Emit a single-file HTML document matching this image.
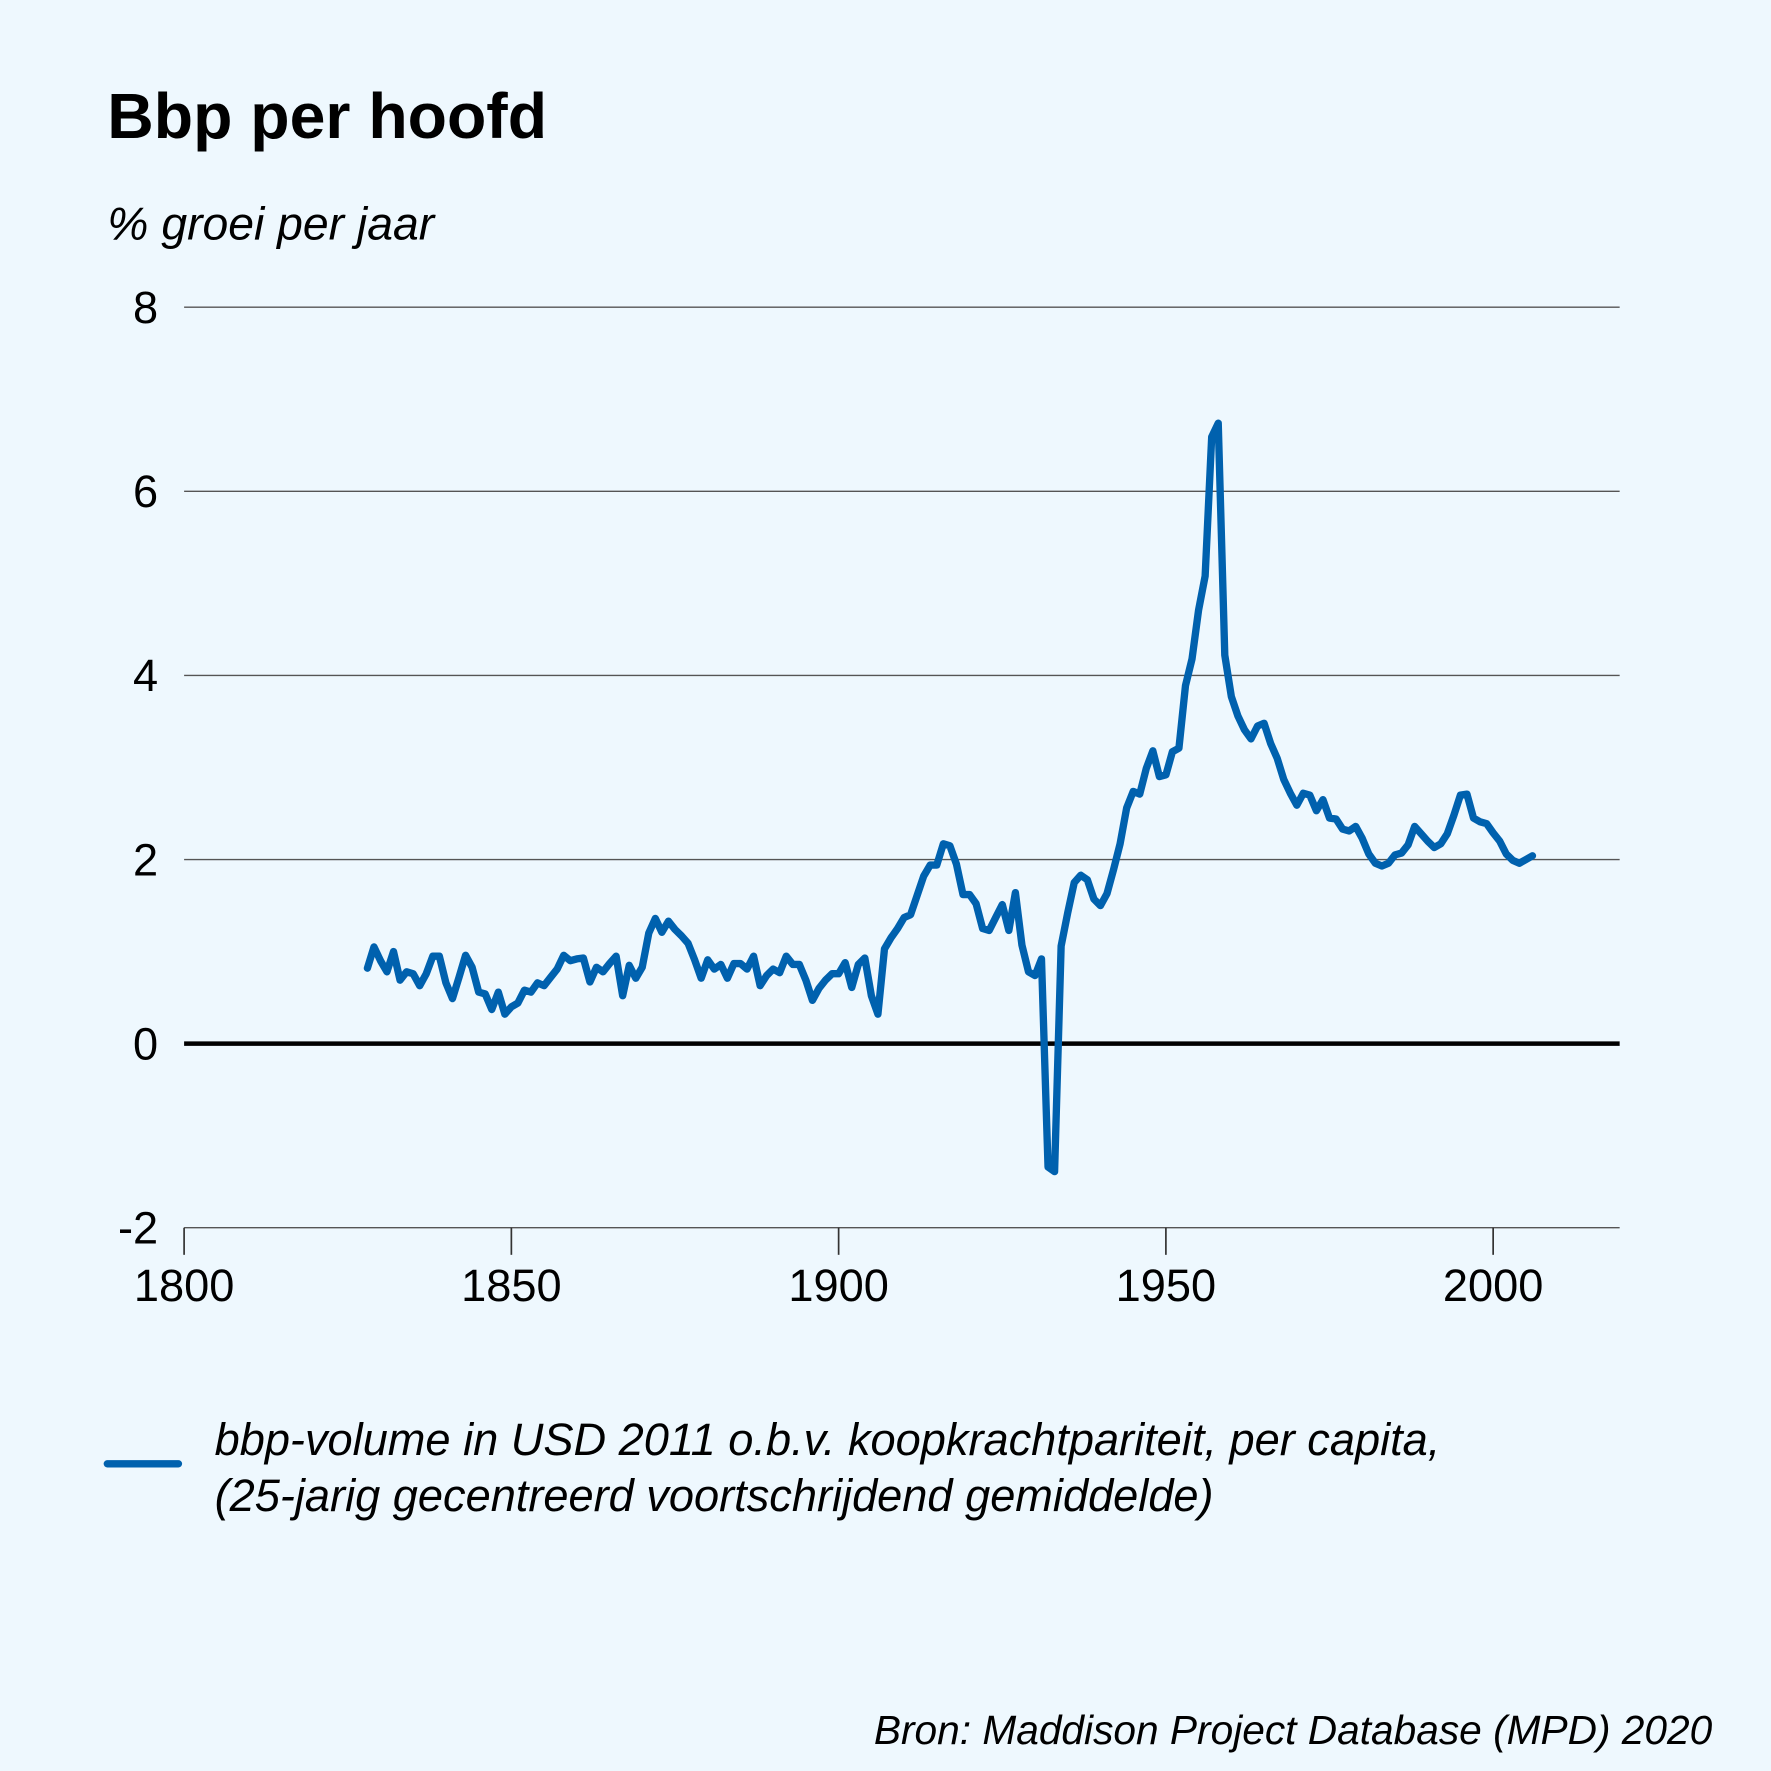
<!DOCTYPE html>
<html><head><meta charset="utf-8"><style>
html,body{margin:0;padding:0;background:#eef8fe;}
svg{display:block;font-family:"Liberation Sans",sans-serif;}
</style></head><body>
<svg id="chart" width="1771" height="1771" viewBox="0 0 1568 1568" xmlns="http://www.w3.org/2000/svg">
<rect x="0" y="0" width="1568" height="1568" fill="#eef8fe"/>
<text x="95" y="122" font-size="57" font-weight="bold" fill="#000">Bbp per hoofd</text>
<text x="95" y="212" font-size="41" font-style="italic" fill="#000">% groei per jaar</text>
<g id="grid"></g>
<g id="xaxis"></g>
<path id="series" fill="none" stroke="#0061ae" stroke-width="6.5" stroke-linejoin="round" stroke-linecap="round"/>
<line x1="95" y1="1296" x2="158" y2="1296" stroke="#0061ae" stroke-width="6.5" stroke-linecap="round"/>
<text x="190" y="1288" font-size="40" font-style="italic" fill="#000">bbp-volume in USD 2011 o.b.v. koopkrachtpariteit, per capita,</text>
<text x="190" y="1338" font-size="40" font-style="italic" fill="#000">(25-jarig gecentreerd voortschrijdend gemiddelde)</text>
<text x="1516" y="1544" font-size="36" font-style="italic" fill="#000" text-anchor="end">Bron: Maddison Project Database (MPD) 2020</text>
</svg>
<script>
const startYear = 1828;
const values = [0.82,1.05,0.9,0.78,1.0,0.69,0.78,0.76,0.63,0.76,0.95,0.95,0.66,0.49,0.72,0.96,0.83,0.56,0.54,0.37,0.56,0.32,0.4,0.44,0.58,0.56,0.66,0.63,0.72,0.81,0.96,0.9,0.92,0.93,0.67,0.83,0.78,0.87,0.95,0.52,0.85,0.71,0.83,1.2,1.36,1.21,1.33,1.24,1.17,1.09,0.91,0.71,0.91,0.81,0.86,0.71,0.87,0.87,0.81,0.95,0.63,0.74,0.81,0.77,0.95,0.86,0.86,0.69,0.47,0.6,0.69,0.76,0.76,0.88,0.61,0.86,0.93,0.52,0.32,1.03,1.15,1.25,1.37,1.4,1.61,1.82,1.94,1.94,2.17,2.15,1.95,1.62,1.62,1.52,1.25,1.23,1.37,1.51,1.23,1.64,1.07,0.78,0.74,0.92,-1.34,-1.39,1.06,1.42,1.75,1.83,1.78,1.57,1.5,1.63,1.89,2.17,2.56,2.74,2.71,2.99,3.18,2.9,2.92,3.17,3.21,3.89,4.18,4.71,5.08,6.59,6.74,4.22,3.77,3.56,3.41,3.31,3.45,3.48,3.26,3.1,2.87,2.72,2.59,2.72,2.7,2.53,2.65,2.45,2.44,2.33,2.31,2.36,2.23,2.06,1.96,1.93,1.96,2.05,2.07,2.16,2.36,2.28,2.2,2.13,2.17,2.28,2.48,2.7,2.71,2.45,2.41,2.39,2.29,2.2,2.06,1.99,1.96,2.0,2.04];
const yTicks = [-2,0,2,4,6,8];
const yTickLabels = ["-2","0","2","4","6","8"];
const xTicks = [1800,1850,1900,1950,2000];
const xTickLabels = ["1800","1850","1900","1950","2000"];

const X0=163, X1=1434;
function xs(yr){ return 163 + (yr-1800)*(1322-163)/200; }
function ys(v){ return 924 - v*81.5; }
const NS="http://www.w3.org/2000/svg";
const grid=document.getElementById('grid');
yTicks.forEach((t,i)=>{
  const l=document.createElementNS(NS,'line');
  l.setAttribute('x1',X0); l.setAttribute('x2',X1);
  l.setAttribute('y1',ys(t)); l.setAttribute('y2',ys(t));
  l.setAttribute('stroke', t===0?'#000':'#555');
  l.setAttribute('stroke-width', t===0?4:1.2);
  
  
  grid.appendChild(l);
  const tx=document.createElementNS(NS,'text');
  tx.setAttribute('x',140); tx.setAttribute('y',ys(t)+14);
  tx.setAttribute('font-size','40'); tx.setAttribute('text-anchor','end');
  tx.textContent=yTickLabels[i];
  
  
  grid.appendChild(tx);
});
const xa=document.getElementById('xaxis');
xTicks.forEach((t,i)=>{
  const l=document.createElementNS(NS,'line');
  l.setAttribute('x1',xs(t)); l.setAttribute('x2',xs(t));
  l.setAttribute('y1',ys(-2)); l.setAttribute('y2',ys(-2)+24);
  l.setAttribute('stroke','#333'); l.setAttribute('stroke-width',1.5);
  
  
  xa.appendChild(l);
  const tx=document.createElementNS(NS,'text');
  tx.setAttribute('x',xs(t)); tx.setAttribute('y',1152);
  tx.setAttribute('font-size','40'); tx.setAttribute('text-anchor','middle');
  tx.textContent=xTickLabels[i];
  
  
  xa.appendChild(tx);
});
let d='';
values.forEach((v,i)=>{ d+=(i?'L':'M')+xs(startYear+i).toFixed(1)+','+ys(v).toFixed(1); });
document.getElementById('series').setAttribute('d',d);
</script>
</body></html>
